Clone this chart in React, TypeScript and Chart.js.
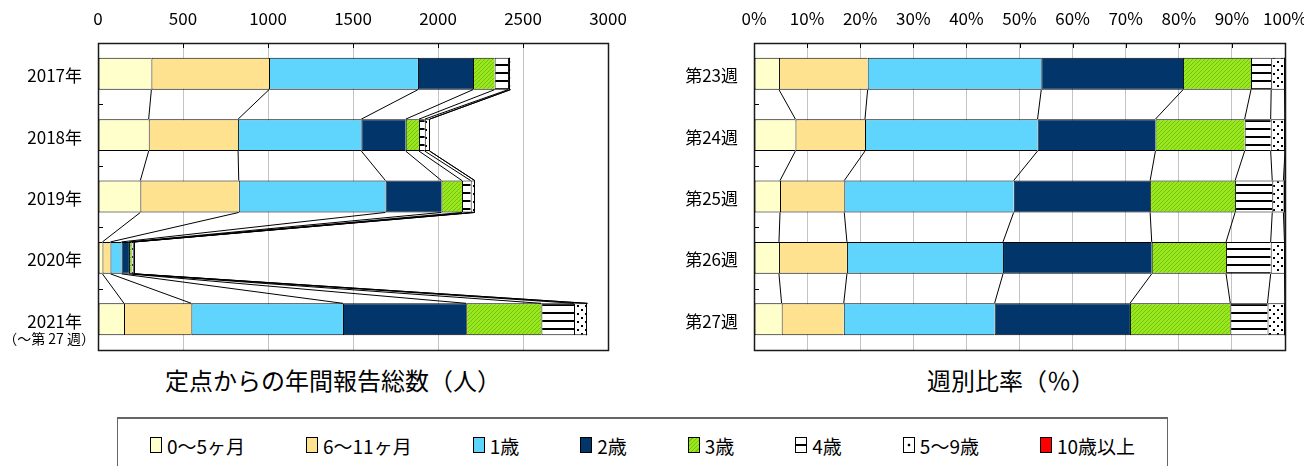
import React, { useEffect, useRef } from 'react';
import { Chart, registerables } from 'chart.js';

Chart.register(...registerables);

// ---------- data ----------
const ageGroups = ['0～5ヶ月', '6～11ヶ月', '1歳', '2歳', '3歳', '4歳', '5～9歳', '10歳以上'];
const years = ['2017年', '2018年', '2019年', '2020年', '2021年'];
const yearSubLabel = '（～第 27 週）';
const weeks = ['第23週', '第24週', '第25週', '第26週', '第27週'];
const leftTitle = '定点からの年間報告総数（人）';
const rightTitle = '週別比率（％）';

// annual reports (persons) per age group, one value per year
const count0to5m = [314, 298, 249, 26, 153];
const count6to11m = [692, 526, 579, 47, 396];
const count1y = [876, 725, 863, 65, 892];
const count2y = [324, 261, 329, 44, 725];
const count3y = [127, 78, 121, 15, 442];
const count4y = [79, 34, 51, 10, 192];
const count5to9y = [14, 29, 24, 9, 79];
const count10plus = [0, 0, 0, 0, 0];

// weekly share (%) per age group, one value per week
const pct0to5m = [4.7, 7.8, 4.9, 4.7, 5.2];
const pct6to11m = [16.7, 13.1, 12.1, 12.8, 11.7];
const pct1y = [32.7, 32.5, 31.9, 29.4, 28.4];
const pct2y = [26.7, 22.2, 25.7, 28.0, 25.5];
const pct3y = [12.8, 16.8, 16.0, 14.0, 18.9];
const pct4y = [3.8, 4.9, 7.0, 8.4, 7.0];
const pct5to9y = [2.5, 2.7, 2.1, 2.6, 3.3];
const pct10plus = [0.1, 0, 0.3, 0.1, 0];

const countMax = 3000;
const countStep = 500;
const pctMax = 100;
const pctStep = 10;

const countSeries = [count0to5m, count6to11m, count1y, count2y, count3y, count4y, count5to9y, count10plus];
const pctSeries = [pct0to5m, pct6to11m, pct1y, pct2y, pct3y, pct4y, pct5to9y, pct10plus];

// ---------- styles ----------
const FONT = "'Noto Sans CJK JP', 'Noto Sans', sans-serif";

function makePattern(kind: string): CanvasPattern | string {
  const c = document.createElement('canvas');
  const g = c.getContext('2d');
  if (!g) return '#fff';
  if (kind === 'green') {
    c.width = 4; c.height = 4;
    g.fillStyle = '#9ae622';
    g.fillRect(0, 0, 4, 4);
    g.fillStyle = '#72c800';
    for (let x = 0; x < 4; x++) {
      for (let y = 0; y < 4; y++) {
        if ((x + y) % 4 === 3) g.fillRect(x, y, 1, 1);
      }
    }
  } else if (kind === 'hstripe') {
    c.width = 4; c.height = 8;
    g.fillStyle = '#ffffff';
    g.fillRect(0, 0, 4, 8);
    g.fillStyle = '#000000';
    g.fillRect(0, 0, 4, 2);
  } else {
    c.width = 8; c.height = 8;
    g.fillStyle = '#ffffff';
    g.fillRect(0, 0, 8, 8);
    g.fillStyle = '#000000';
    g.fillRect(1, 1, 2, 2);
    g.fillRect(5, 5, 2, 2);
  }
  return g.createPattern(c, 'repeat') || '#fff';
}

function fills(): (CanvasPattern | string)[] {
  return ['#ffffcc', '#ffe28f', '#5fd5fd', '#02366a', makePattern('green'), makePattern('hstripe'), makePattern('dots'), '#ff0000'];
}

// series lines between consecutive bars, bar end lines, plot frame, inner ticks
const decorations = {
  id: 'decorations',
  afterDatasetsDraw(chart: any) {
    const ctx = chart.ctx;
    const nSets = chart.data.datasets.length;
    const nCats = chart.data.labels.length;
    ctx.save();
    ctx.strokeStyle = '#000';
    ctx.lineWidth = 1;
    for (let k = 0; k < nSets; k++) {
      const meta = chart.getDatasetMeta(k);
      for (let i = 0; i < nCats - 1; i++) {
        const a = meta.data[i];
        const b = meta.data[i + 1];
        if (!a || !b) continue;
        ctx.beginPath();
        ctx.moveTo(a.x, a.y + a.height / 2);
        ctx.lineTo(b.x, b.y - b.height / 2);
        ctx.stroke();
      }
    }
    // bar end lines
    const last = chart.getDatasetMeta(nSets - 1);
    for (let i = 0; i < nCats; i++) {
      const e = last.data[i];
      if (!e) continue;
      const x = Math.round(e.x) - 0.5;
      ctx.beginPath();
      ctx.moveTo(x, e.y - e.height / 2);
      ctx.lineTo(x, e.y + e.height / 2);
      ctx.stroke();
    }
    ctx.restore();
  },
  afterDraw(chart: any) {
    const { ctx, chartArea: a, scales } = chart;
    ctx.save();
    ctx.strokeStyle = '#000';
    ctx.lineWidth = 1;
    const xs = scales.x;
    for (let i = 0; i < xs.ticks.length; i++) {
      const px = Math.round(xs.getPixelForTick(i)) + 0.5;
      ctx.beginPath();
      ctx.moveTo(px, a.top);
      ctx.lineTo(px, a.top + 5);
      ctx.stroke();
    }
    const ys = scales.y;
    for (let i = 0; i <= ys.ticks.length; i++) {
      const py = Math.round(ys.getPixelForValue(i - 0.5)) + 0.5;
      ctx.beginPath();
      ctx.moveTo(a.left, py);
      ctx.lineTo(a.left + 5, py);
      ctx.stroke();
    }
    ctx.lineWidth = 1.5;
    ctx.strokeStyle = '#1a1a1a';
    ctx.strokeRect(Math.round(a.left) + 0.5, Math.round(a.top) + 0.5, Math.round(a.width), Math.round(a.height));
    ctx.restore();
  },
};

function buildConfig(labels: string[], series: number[][], max: number, step: number, suffix: string,
  leftW: number, topH: number, rightPad: number, bottomPad: number): any {
  const f = fills();
  const datasets = series.map((vals, k) => ({
    label: ageGroups[k],
    data: vals,
    backgroundColor: f[k],
    borderColor: '#000',
    borderWidth: { top: 1, bottom: 1, left: 1, right: 0 },
    borderSkipped: false,
    barPercentage: 0.52,
    categoryPercentage: 1.0,
  }));
  return {
    type: 'bar',
    data: { labels, datasets },
    plugins: [decorations],
    options: {
      indexAxis: 'y',
      responsive: false,
      animation: false,
      events: [],
      layout: { padding: { left: 0, top: 0, right: rightPad, bottom: bottomPad } },
      plugins: { legend: { display: false }, tooltip: { enabled: false }, title: { display: false } },
      scales: {
        x: {
          type: 'linear',
          position: 'top',
          stacked: true,
          min: 0,
          max,
          ticks: {
            stepSize: step,
            color: '#000',
            font: { family: FONT, size: 17 },
            padding: 14,
            maxRotation: 0,
            autoSkip: false,
            callback: (v: number) => `${v}${suffix}`,
          },
          grid: { display: true, drawTicks: false, color: '#c4c4c4', lineWidth: 1 },
          border: { display: false },
          afterFit: (s: any) => { s.height = topH; s.paddingLeft = 0; s.paddingRight = 0; },
        },
        y: {
          type: 'category',
          stacked: true,
          ticks: { color: '#000', font: { family: FONT, size: 17 }, padding: 16, labelOffset: 2 },
          grid: { display: false, drawTicks: false },
          border: { display: false },
          afterFit: (s: any) => { s.width = leftW; s.paddingTop = 0; s.paddingBottom = 0; },
        },
      },
    },
  };
}

function swatchStyle(k: number): React.CSSProperties {
  const base: React.CSSProperties = {
    width: 10, height: 14, border: '1.5px solid #000', boxSizing: 'content-box', marginRight: 5, flex: 'none',
  };
  const bgs = [
    '#ffffcc',
    '#ffe28f',
    '#5fd5fd',
    '#02366a',
    'repeating-linear-gradient(135deg, #9ae622 0 2px, #72c800 2px 3px)',
    'linear-gradient(to bottom, #fff 0 40%, #000 40% 60%, #fff 60% 100%)',
    'radial-gradient(circle at 50% 50%, #000 0 1.5px, #fff 1.6px)',
    '#ff0000',
  ];
  return { ...base, background: bgs[k] };
}

export default function App() {
  const leftRef = useRef<HTMLCanvasElement>(null);
  const rightRef = useRef<HTMLCanvasElement>(null);

  useEffect(() => {
    const charts: Chart[] = [];
    if (leftRef.current) {
      charts.push(new Chart(leftRef.current, buildConfig(years, countSeries, countMax, countStep, '', 98, 43, 32, 10)));
    }
    if (rightRef.current) {
      charts.push(new Chart(rightRef.current, buildConfig(weeks, pctSeries, pctMax, pctStep, '%', 114, 43, 19, 10)));
    }
    return () => { charts.forEach((c) => c.destroy()); };
  }, []);

  return (
    <div style={{ position: 'absolute', left: 0, top: 0, width: 1304, height: 466, overflow: 'hidden', background: '#fff', fontFamily: FONT, color: '#000' }}>
      <canvas ref={leftRef} width={640} height={360} style={{ position: 'absolute', left: 0, top: 0, width: 640, height: 360 }} />
      <canvas ref={rightRef} width={664} height={360} style={{ position: 'absolute', left: 640, top: 0, width: 664, height: 360 }} />
      <div style={{ position: 'absolute', left: 0, top: 329, width: 95, textAlign: 'right', fontSize: 14, lineHeight: '18px', whiteSpace: 'nowrap' }}>{yearSubLabel}</div>
      <div style={{ position: 'absolute', left: 133, top: 363, width: 400, textAlign: 'center', fontSize: 24, lineHeight: '34px', whiteSpace: 'nowrap' }}>{leftTitle}</div>
      <div style={{ position: 'absolute', left: 811, top: 363, width: 400, textAlign: 'center', fontSize: 24, lineHeight: '34px', whiteSpace: 'nowrap' }}>{rightTitle}</div>
      <div style={{ position: 'absolute', left: 117, top: 417, width: 1051, height: 70, borderTop: '2px solid #666', borderLeft: '1px solid #666', borderRight: '1px solid #666', boxSizing: 'border-box' }}>
        <div style={{ position: 'absolute', left: 0, right: 0, top: 14, height: 24, display: 'flex', alignItems: 'center', justifyContent: 'center', gap: 61, fontSize: 19, whiteSpace: 'nowrap' }}>
          {ageGroups.map((g, k) => (
            <div key={g} style={{ display: 'flex', alignItems: 'center' }}>
              <div style={swatchStyle(k)} />
              <span>{g}</span>
            </div>
          ))}
        </div>
      </div>
    </div>
  );
}
